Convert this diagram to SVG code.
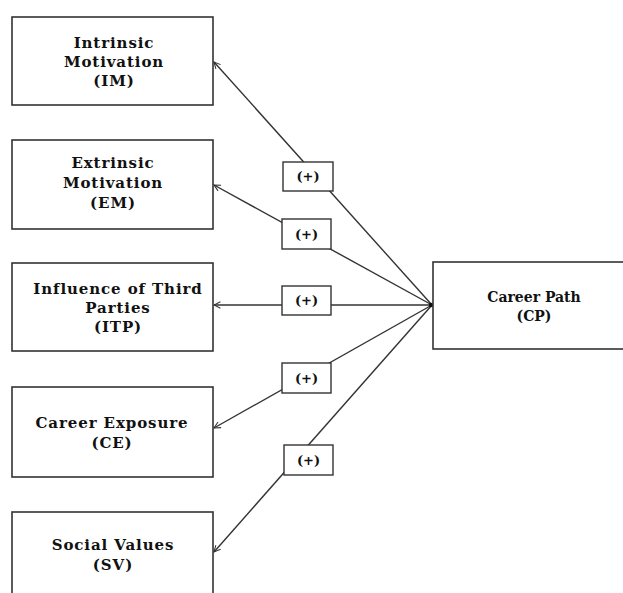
<svg xmlns="http://www.w3.org/2000/svg" width="623" height="593" viewBox="0 0 623 593">
<style>
.box{fill:#fff;stroke:#333;stroke-width:1.6}
.lbl{fill:#fff;stroke:#333;stroke-width:1.4}
.t{font-family:"DejaVu Serif","Liberation Serif",serif;font-weight:bold;font-size:15px;letter-spacing:0.9px;fill:#111;text-anchor:middle}
.tc{font-family:"DejaVu Serif","Liberation Serif",serif;font-weight:bold;font-size:14px;fill:#111;text-anchor:middle}
.p{font-family:"DejaVu Serif","Liberation Serif",serif;font-weight:bold;font-size:13px;fill:#111;text-anchor:middle}
.c{fill:none;stroke:#333;stroke-width:1.4}
</style>
<defs>
<marker id="open" viewBox="0 0 10 10" refX="9" refY="5" markerWidth="8" markerHeight="8" markerUnits="userSpaceOnUse" orient="auto">
<path d="M1,1 L9,5 L1,9" fill="none" stroke="#333" stroke-width="1.3"/>
</marker>
</defs>
<rect width="623" height="593" fill="#fff"/>
<g id="connectors">
<line class="c" x1="432" y1="305" x2="214" y2="62" marker-end="url(#open)"/>
<line class="c" x1="432" y1="305" x2="214" y2="185" marker-end="url(#open)"/>
<line class="c" x1="432" y1="305" x2="214" y2="305" marker-end="url(#open)"/>
<line class="c" x1="432" y1="305" x2="214" y2="428" marker-end="url(#open)"/>
<line class="c" x1="432" y1="305" x2="214" y2="552" marker-end="url(#open)"/>
<circle cx="431" cy="305" r="2.2" fill="#111"/>
</g>
<g id="IM">
<rect class="box" x="12" y="17" width="201" height="88"/>
<text class="t" x="114" y="48">Intrinsic</text>
<text class="t" x="114" y="67">Motivation</text>
<text class="t" x="114" y="86">(IM)</text>
</g>
<g id="EM">
<rect class="box" x="12" y="140" width="201" height="89"/>
<text class="t" x="113" y="168">Extrinsic</text>
<text class="t" x="113" y="188">Motivation</text>
<text class="t" x="113" y="208">(EM)</text>
</g>
<g id="ITP">
<rect class="box" x="12" y="263" width="201" height="88"/>
<text class="t" x="118" y="294">Influence of Third</text>
<text class="t" x="118" y="313">Parties</text>
<text class="t" x="118" y="332">(ITP)</text>
</g>
<g id="CE">
<rect class="box" x="12" y="387" width="201" height="90"/>
<text class="t" x="112" y="428">Career Exposure</text>
<text class="t" x="112" y="448">(CE)</text>
</g>
<g id="SV">
<rect class="box" x="12" y="512" width="201" height="100"/>
<text class="t" x="113" y="550">Social Values</text>
<text class="t" x="113" y="570">(SV)</text>
</g>
<g id="CP">
<rect class="box" x="433" y="262" width="200" height="87"/>
<text class="tc" x="534" y="302">Career Path</text>
<text class="tc" x="534" y="321">(CP)</text>
</g>
<g id="L1"><rect class="lbl" x="283" y="162" width="50" height="29"/><text class="p" x="308" y="181">(+)</text></g>
<g id="L2"><rect class="lbl" x="282" y="219" width="49" height="30"/><text class="p" x="306.5" y="238.5">(+)</text></g>
<g id="L3"><rect class="lbl" x="282" y="286" width="49" height="29"/><text class="p" x="306.5" y="305">(+)</text></g>
<g id="L4"><rect class="lbl" x="282" y="363" width="49" height="30"/><text class="p" x="306.5" y="382.5">(+)</text></g>
<g id="L5"><rect class="lbl" x="284" y="445" width="49" height="30"/><text class="p" x="308.5" y="464.5">(+)</text></g>
</svg>
